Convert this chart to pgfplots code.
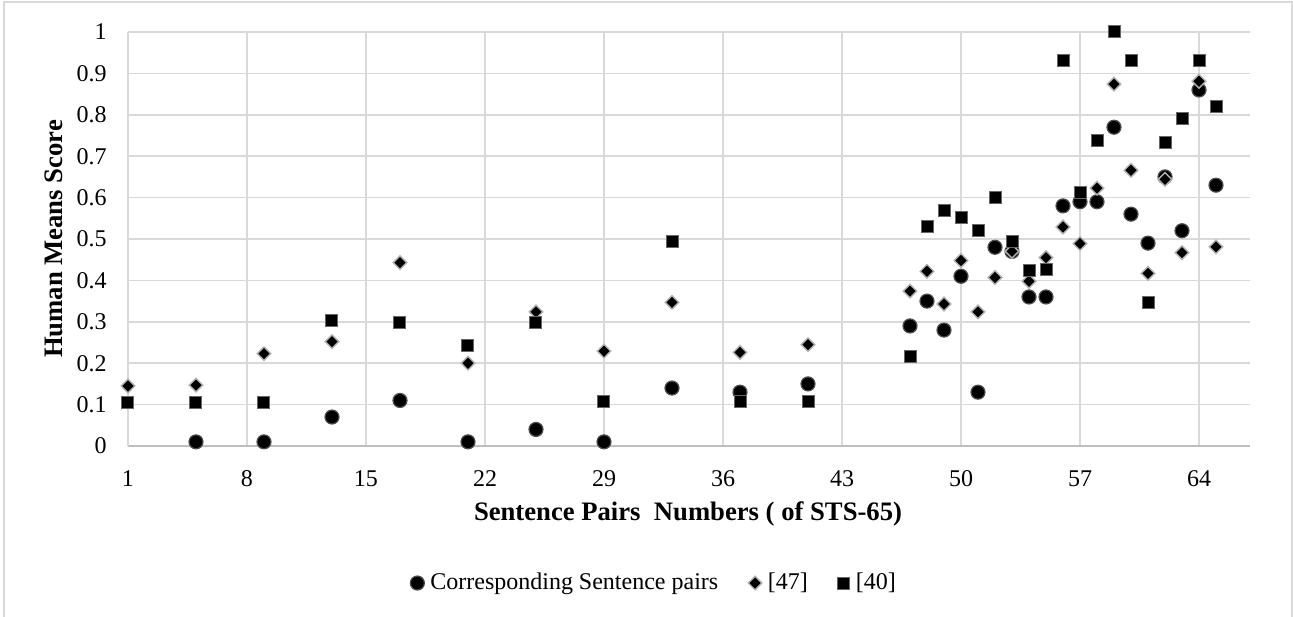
\documentclass[border=0pt]{standalone}
\usepackage{pgfplots}
\pgfplotsset{compat=1.18}
\usepackage{fontspec}
\setmainfont{Liberation Serif}
\definecolor{gridc}{HTML}{D9D9D9}
\definecolor{axc}{HTML}{BFBFBF}
\begin{document}
\begin{tikzpicture}
\useasboundingbox (-64bp,-85.5bp) rectangle (582.5bp,223bp);
\draw[gridc, line width=0.75bp] (-62bp,-90bp) -- (-62bp,222bp) -- (582bp,222bp) -- (582bp,-90bp);
\begin{axis}[
  at={(0,0)}, anchor=south west,
  width=561bp, height=207bp, scale only axis,
  xmin=1, xmax=67, ymin=0, ymax=1,
  xtick={1,8,15,22,29,36,43,50,57,64},
  ytick={0,0.1,0.2,0.3,0.4,0.5,0.6,0.7,0.8,0.9,1},
  /pgf/number format/assume math mode=true,
  ticklabel style={font=\fontsize{12bp}{14bp}\selectfont},
  yticklabel style={inner sep=0pt, anchor=east, xshift=-10.5bp},
  xticklabel style={inner sep=0pt, anchor=north, yshift=-12bp},
  major tick length=0pt,
  axis x line*=bottom, axis y line*=left,
  x axis line style={-, draw=axc, line width=0.75bp},
  y axis line style={-, draw=gridc, line width=0.75bp},
  grid=major, grid style={draw=gridc, line width=0.75bp},
  legend columns=3,
  legend style={at={(axis description cs:0.468,-0.331)}, anchor=center, draw=none,
    font=\fontsize{12bp}{14bp}\selectfont, nodes={inner sep=0pt},
    /tikz/every odd column/.append style={column sep=3bp},
    /tikz/every even column/.append style={column sep=15bp}},
  legend image code/.code={\draw[#1] plot coordinates {(0bp,0bp)};},
]
\addplot[only marks, mark=*, mark size=3.5bp, mark options={fill=black, draw=black!70, line width=0.6bp}] table {
x y
5 0.01
9 0.01
13 0.07
17 0.11
21 0.01
25 0.04
29 0.01
33 0.14
37 0.13
41 0.15
47 0.29
48 0.35
49 0.28
50 0.41
51 0.13
52 0.48
53 0.47
54 0.36
55 0.36
56 0.58
57 0.59
58 0.59
59 0.77
60 0.56
61 0.49
62 0.65
63 0.52
64 0.86
65 0.63
};
\addlegendentry{Corresponding Sentence pairs}
\addplot[only marks, mark=diamond*, mark size=3.4bp, mark options={fill=black, draw=black!30, line width=0.7bp, xscale=1.33}] table {
x y
1 0.145
5 0.147
9 0.223
13 0.252
17 0.443
21 0.200
25 0.324
29 0.229
33 0.347
37 0.226
41 0.245
47 0.374
48 0.422
49 0.343
50 0.448
51 0.324
52 0.407
53 0.470
54 0.398
55 0.455
56 0.529
57 0.489
58 0.623
59 0.874
60 0.666
61 0.417
62 0.644
63 0.467
64 0.881
65 0.481
};
\addlegendentry{[47]}
\addplot[only marks, mark=square*, mark size=3bp, mark options={fill=black, draw=black!60, line width=0.5bp}] table {
x y
1 0.105
5 0.105
9 0.105
13 0.302
17 0.298
21 0.242
25 0.298
29 0.107
33 0.495
37 0.107
41 0.107
47 0.216
48 0.529
49 0.570
50 0.551
51 0.520
52 0.600
53 0.495
54 0.425
55 0.427
56 0.932
57 0.612
58 0.739
59 1.000
60 0.932
61 0.346
62 0.734
63 0.790
64 0.930
65 0.821
};
\addlegendentry{[40]}
\end{axis}
\node[rotate=90, font=\bfseries\fontsize{13.33bp}{16bp}\selectfont] at (-37bp,103.5bp) {Human Means Score};
\node[font=\bfseries\fontsize{13.33bp}{16bp}\selectfont] at (280bp,-34bp) {Sentence Pairs\ \ Numbers ( of STS-65)};
\end{tikzpicture}
\end{document}
